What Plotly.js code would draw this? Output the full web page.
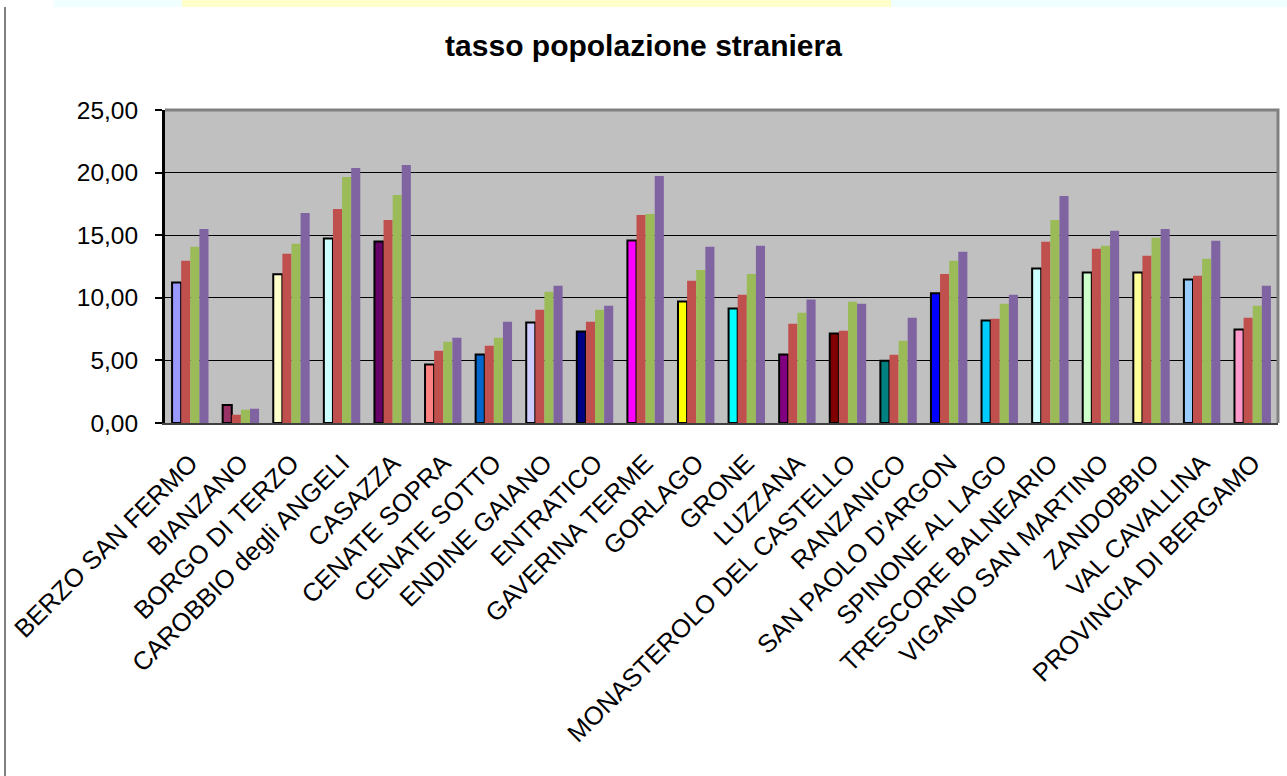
<!DOCTYPE html>
<html>
<head>
<meta charset="utf-8">
<script src="https://cdn.plot.ly/plotly-3.0.1.min.js"></script>
<style>
  html, body { margin: 0; padding: 0; background: #ffffff; }
  #chart { width: 1287px; height: 776px; }
</style>
</head>
<body>
<div id="chart"></div>
<script>
const categories = [
  "BERZO SAN FERMO", "BIANZANO", "BORGO DI TERZO", "CAROBBIO degli ANGELI", "CASAZZA",
  "CENATE SOPRA", "CENATE SOTTO", "ENDINE GAIANO", "ENTRATICO", "GAVERINA TERME",
  "GORLAGO", "GRONE", "LUZZANA", "MONASTEROLO DEL CASTELLO", "RANZANICO",
  "SAN PAOLO D'ARGON", "SPINONE AL LAGO", "TRESCORE BALNEARIO", "VIGANO SAN MARTINO",
  "ZANDOBBIO", "VAL CAVALLINA", "PROVINCIA DI BERGAMO"
];

const serie1 = [11.22, 1.44, 11.89, 14.73, 14.49, 4.68, 5.48, 8.03, 7.31, 14.57, 9.71, 9.15, 5.48, 7.15, 4.97, 10.37, 8.19, 12.34, 12.02, 12.02, 11.46, 7.47];
const serie2 = [12.95, 0.66, 13.51, 17.10, 16.22, 5.77, 6.17, 9.04, 8.09, 16.62, 11.36, 10.24, 7.93, 7.37, 5.45, 11.91, 8.32, 14.47, 13.91, 13.35, 11.76, 8.40];
const serie3 = [14.07, 1.06, 14.31, 19.65, 18.22, 6.49, 6.81, 10.48, 9.04, 16.70, 12.23, 11.91, 8.80, 9.68, 6.57, 12.95, 9.52, 16.22, 14.15, 14.79, 13.11, 9.36];
const serie4 = [15.50, 1.14, 16.78, 20.37, 20.61, 6.81, 8.09, 10.96, 9.36, 19.73, 14.07, 14.15, 9.87, 9.52, 8.40, 13.67, 10.24, 18.14, 15.35, 15.50, 14.55, 10.96];

const serie1Colors = [
  "#9999FF", "#993366", "#FFFFCC", "#CCFFFF", "#660066",
  "#FF8080", "#0066CC", "#CCCCFF", "#000080", "#FF00FF",
  "#FFFF00", "#00FFFF", "#800080", "#800000", "#008080",
  "#0000FF", "#00CCFF", "#CCFFFF", "#CCFFCC", "#FFFF99",
  "#99CCFF", "#FF99CC"
];

const traces = [
  { type: "bar", name: "Serie 1", x: categories, y: serie1,
    marker: { color: serie1Colors, line: { color: "#000000", width: 2 } } },
  { type: "bar", name: "Serie 2", x: categories, y: serie2,
    marker: { color: "#C0504D", line: { width: 0 } } },
  { type: "bar", name: "Serie 3", x: categories, y: serie3,
    marker: { color: "#9BBB59", line: { width: 0 } } },
  { type: "bar", name: "Serie 4", x: categories, y: serie4,
    marker: { color: "#8064A2", line: { width: 0 } } }
];

const PL = 165, PR = 1278, PT = 110, PB = 423;
const W = PR - PL, H = PB - PT;
const px = v => (v - PL) / W;
const py = v => (PB - v) / H;

const FONT = "Liberation Sans, Arial, sans-serif";

const layout = {
  width: 1287, height: 776,
  separators: ",.",
  paper_bgcolor: "#FFFFFF",
  plot_bgcolor: "#C0C0C0",
  showlegend: false,
  barmode: "group",
  bargap: 0.28,
  bargroupgap: 0,
  margin: { l: PL, r: 1287 - PR, t: PT, b: 776 - PB, pad: 0 },
  font: { family: FONT, color: "#000000" },
  title: {
    text: "<b>tasso popolazione straniera</b>",
    font: { family: FONT, size: 30, color: "#000000" },
    x: 0.5, xref: "container", xanchor: "center",
    y: 1 - 45 / 776, yref: "container", yanchor: "middle"
  },
  xaxis: {
    type: "category",
    tickangle: -45,
    tickfont: { size: 25.5, family: FONT },
    showline: true, linecolor: "#404040", linewidth: 2,
    ticks: "", showgrid: false, automargin: false,
    ticklabelstandoff: 13
  },
  yaxis: {
    range: [0, 25], dtick: 5, tick0: 0,
    tickformat: ".2f",
    tickfont: { size: 24.5, family: FONT },
    showline: true, linecolor: "#000000", linewidth: 3,
    ticks: "outside", ticklen: 7, tickwidth: 2, tickcolor: "#000000",
    showgrid: true, gridcolor: "#000000", gridwidth: 1,
    zeroline: false, automargin: false,
    ticklabelstandoff: 12
  },
  shapes: [
    { type: "path", xref: "paper", yref: "paper",
      path: "M 0,1 L 1,1 L 1,0", line: { color: "#808080", width: 3 }, layer: "above" },
    { type: "line", xref: "paper", yref: "paper",
      x0: px(5), x1: px(5), y0: py(7), y1: py(776), line: { color: "#000000", width: 1 } },
    { type: "rect", xref: "paper", yref: "paper",
      x0: px(54), x1: px(182), y0: py(7), y1: py(0), line: { width: 0 }, fillcolor: "#F0FFFF" },
    { type: "rect", xref: "paper", yref: "paper",
      x0: px(182), x1: px(891), y0: py(7), y1: py(0), line: { width: 0 }, fillcolor: "#FFFFCC" },
    { type: "rect", xref: "paper", yref: "paper",
      x0: px(891), x1: px(1287), y0: py(7), y1: py(0), line: { width: 0 }, fillcolor: "#F0FFFF" }
  ]
};

Plotly.newPlot("chart", traces, layout, { displayModeBar: false, staticPlot: true });
</script>
</body>
</html>
